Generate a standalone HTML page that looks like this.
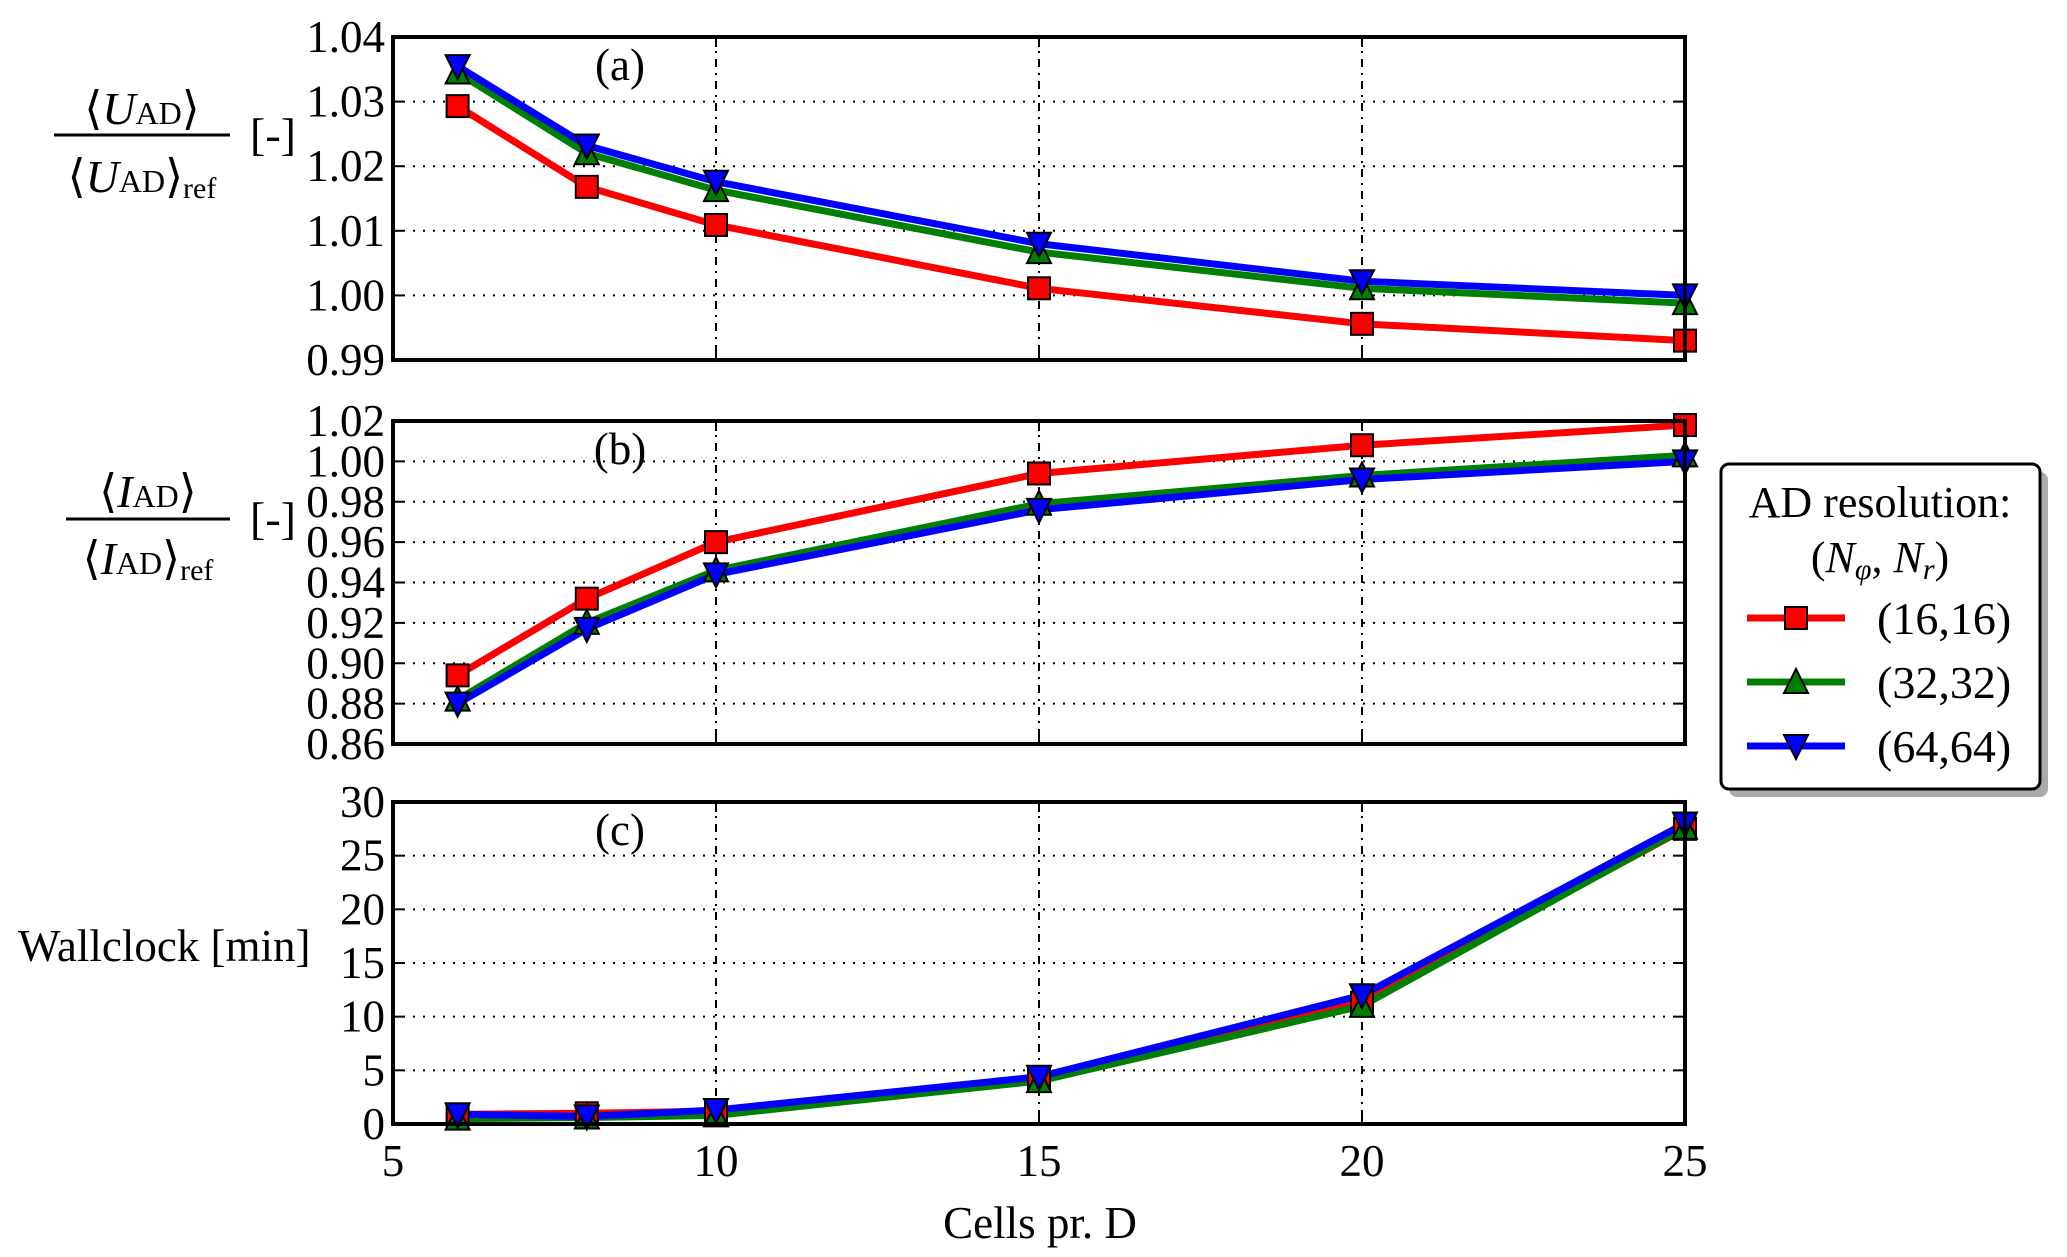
<!DOCTYPE html>
<html><head><meta charset="utf-8"><style>
html,body{margin:0;padding:0;background:#fff}
svg{display:block}
text{font-family:"Liberation Serif","DejaVu Serif",serif;fill:#000}
</style></head><body>
<svg id="chart" width="2067" height="1257" viewBox="0 0 2067 1257" xmlns="http://www.w3.org/2000/svg">
<g>
<text x="142" y="124" font-size="46" text-anchor="middle">⟨<tspan font-style="italic">U</tspan><tspan font-size="32">AD</tspan>⟩</text>
<line x1="54" y1="135" x2="230" y2="135" stroke="#000" stroke-width="3"/>
<text x="142" y="192" font-size="46" text-anchor="middle">⟨<tspan font-style="italic">U</tspan><tspan font-size="32">AD</tspan>⟩<tspan font-size="30" dy="6">ref</tspan></text>
<text x="250" y="150" font-size="46">[-]</text>
</g>
<g>
<text x="148" y="507" font-size="46" text-anchor="middle">⟨<tspan font-style="italic">I</tspan><tspan font-size="32">AD</tspan>⟩</text>
<line x1="66" y1="519" x2="230" y2="519" stroke="#000" stroke-width="3"/>
<text x="148" y="574" font-size="46" text-anchor="middle">⟨<tspan font-style="italic">I</tspan><tspan font-size="32">AD</tspan>⟩<tspan font-size="30" dy="6">ref</tspan></text>
<text x="250" y="534" font-size="46">[-]</text>
</g>
<text x="18" y="961" font-size="45">Wallclock [min]</text>
<text x="1040" y="1238" font-size="45" text-anchor="middle">Cells pr. D</text>
<g>
<rect x="1729" y="472" width="319" height="325" rx="8" fill="#aaa"/>
<rect x="1721" y="464" width="319" height="325" rx="8" fill="#fff" stroke="#000" stroke-width="3"/>
<text x="1880" y="517" font-size="44" text-anchor="middle">AD resolution:</text>
<text x="1880" y="572" font-size="44" text-anchor="middle">(<tspan font-style="italic">N</tspan><tspan font-size="30" font-style="italic" dy="7">φ</tspan><tspan dy="-7">, </tspan><tspan font-style="italic">N</tspan><tspan font-size="30" font-style="italic" dy="7">r</tspan><tspan dy="-7">)</tspan></text>
<g id="legend-entries"></g>
</g>
<g id="plots"></g>
</svg>
<script>
const cells = [6, 8, 10, 15, 20, 25];
const seriesNames = ["(16,16)", "(32,32)", "(64,64)"];
const uRed = [1.0293, 1.0168, 1.0109, 1.0011, 0.9956, 0.9930];
const uGreen = [1.0345, 1.0220, 1.0163, 1.0067, 1.0011, 0.9988];
const uBlue = [1.0355, 1.0232, 1.0176, 1.0080, 1.0022, 1.0000];
const iRed = [0.894, 0.932, 0.960, 0.994, 1.008, 1.018];
const iGreen = [0.882, 0.920, 0.946, 0.979, 0.993, 1.003];
const iBlue = [0.880, 0.917, 0.944, 0.976, 0.991, 1.000];
const wRed = [0.9, 1.0, 1.2, 4.2, 11.3, 27.5];
const wGreen = [0.5, 0.6, 0.8, 4.0, 11.0, 27.6];
const wBlue = [0.9, 0.7, 1.3, 4.4, 12.0, 28.0];
const xTicks = [5, 10, 15, 20, 25];
const yTicksA = [0.99, 1.00, 1.01, 1.02, 1.03, 1.04];
const yTicksB = [0.86, 0.88, 0.90, 0.92, 0.94, 0.96, 0.98, 1.00, 1.02];
const yTicksC = [0, 5, 10, 15, 20, 25, 30];

const NS = "http://www.w3.org/2000/svg";
const colors = ["#ff0000", "#008000", "#0000ff"];
const markers = ["square", "up", "down"];
const X0 = 393, X1 = 1685;
const xs = v => X0 + (v - 5) / 20 * (X1 - X0);
function mk(tag, attrs, parent) {
  const e = document.createElementNS(NS, tag);
  for (const k in attrs) e.setAttribute(k, attrs[k]);
  parent.appendChild(e);
  return e;
}
function marker(type, cx, cy, col, parent) {
  const s = 11;
  let e;
  if (type === "square") e = mk("rect", {x: cx - s, y: cy - s, width: 2 * s, height: 2 * s, fill: col, stroke: "#000", "stroke-width": 2}, parent);
  else if (type === "up") e = mk("polygon", {points: `${cx},${cy - s - 2} ${cx - s - 1},${cy + s} ${cx + s + 1},${cy + s}`, fill: col, stroke: "#000", "stroke-width": 2}, parent);
  else e = mk("polygon", {points: `${cx},${cy + s + 2} ${cx - s - 1},${cy - s} ${cx + s + 1},${cy - s}`, fill: col, stroke: "#000", "stroke-width": 2}, parent);
  return e;
}
const panels = [
  {id: "a", top: 37, bot: 360, min: 0.99, max: 1.04, ticks: yTicksA, dec: 2, data: [uRed, uGreen, uBlue], label: "(a)"},
  {id: "b", top: 421, bot: 744, min: 0.86, max: 1.02, ticks: yTicksB, dec: 2, data: [iRed, iGreen, iBlue], label: "(b)"},
  {id: "c", top: 802, bot: 1124, min: 0, max: 30, ticks: yTicksC, dec: 0, data: [wRed, wGreen, wBlue], label: "(c)"}
];
const root = document.getElementById("plots");
panels.forEach((p, pi) => {
  const g = mk("g", {}, root);
  
  
  const ys = v => p.bot - (v - p.min) / (p.max - p.min) * (p.bot - p.top);
  const clipId = "clip" + p.id;
  const cp = mk("clipPath", {id: clipId}, g);
  mk("rect", {x: X0, y: p.top, width: X1 - X0, height: p.bot - p.top}, cp);
  p.ticks.forEach(t => {
    const y = ys(t);
    if (t !== p.min && t !== p.max) {
      const gl = mk("line", {x1: X0, x2: X1, y1: y, y2: y, stroke: "#000", "stroke-width": 2, "stroke-dasharray": "2,8"}, g);
      
      
    }
    mk("line", {x1: X0, x2: X0 + 10, y1: y, y2: y, stroke: "#000", "stroke-width": 2}, g);
    mk("line", {x1: X1, x2: X1 - 10, y1: y, y2: y, stroke: "#000", "stroke-width": 2}, g);
    const tl = mk("text", {x: X0 - 8, y: y + 15, "font-size": 45, "text-anchor": "end"}, g);
    tl.textContent = t.toFixed(p.dec);
    
    
  });
  xTicks.forEach(t => {
    const x = xs(t);
    if (t !== 5 && t !== 25) {
      const gl = mk("line", {x1: x, x2: x, y1: p.top, y2: p.bot, stroke: "#000", "stroke-width": 2, "stroke-dasharray": "8,6,2,6"}, g);
      
      
    }
    mk("line", {x1: x, x2: x, y1: p.bot, y2: p.bot - 10, stroke: "#000", "stroke-width": 2}, g);
    mk("line", {x1: x, x2: x, y1: p.top, y2: p.top + 10, stroke: "#000", "stroke-width": 2}, g);
    if (pi === 2) {
      const tl = mk("text", {x: x, y: p.bot + 52, "font-size": 45, "text-anchor": "middle"}, g);
      tl.textContent = t;
      
      
    }
  });
  const lab = mk("text", {x: 620, y: p.top + 43, "font-size": 45, "text-anchor": "middle"}, g);
  lab.textContent = p.label;
  
  
  const sg = mk("g", {"clip-path": "url(#" + clipId + ")"}, g);
  p.data.forEach((arr, si) => {
    const pts = arr.map((v, i) => xs(cells[i]) + "," + ys(v)).join(" ");
    const pl = mk("polyline", {points: pts, fill: "none", stroke: colors[si], "stroke-width": 7, "stroke-linejoin": "round"}, sg);
    
    
  });
  const mg = mk("g", {}, g);
  p.data.forEach((arr, si) => {
    arr.forEach((v, i) => {
      const m = marker(markers[si], xs(cells[i]), ys(v), colors[si], mg);
      
      
    });
  });
  const fr = mk("rect", {x: X0, y: p.top, width: X1 - X0, height: p.bot - p.top, fill: "none", stroke: "#000", "stroke-width": 4}, g);
  
  
});
const le = document.getElementById("legend-entries");
const ly = [618, 682, 746];
seriesNames.forEach((n, i) => {
  const g = mk("g", {}, le);
  
  
  mk("line", {x1: 1747, x2: 1845, y1: ly[i], y2: ly[i], stroke: colors[i], "stroke-width": 7}, g);
  marker(markers[i], 1796, ly[i], colors[i], g);
  const t = mk("text", {x: 1877, y: ly[i] + 16, "font-size": 46}, g);
  t.textContent = n;
});
</script>
</body></html>
